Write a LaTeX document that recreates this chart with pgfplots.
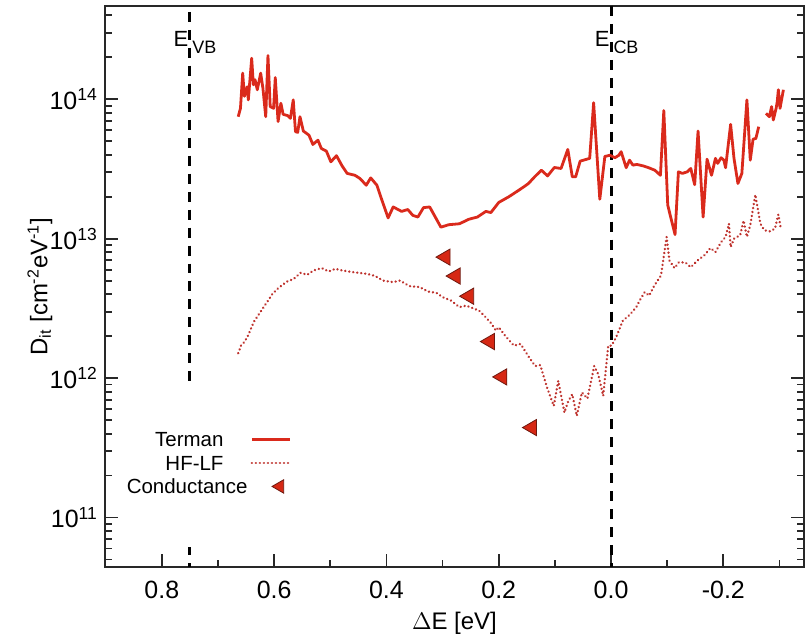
\documentclass[border=0pt]{standalone}
\usepackage{fontspec}
\setmainfont{Liberation Sans}
\usepackage{pgfplots}
\pgfplotsset{compat=1.18}
\definecolor{tred}{RGB}{218,42,28}
\definecolor{hfred}{RGB}{190,50,45}
\definecolor{mred}{RGB}{214,40,20}
\definecolor{medge}{RGB}{110,25,15}
\definecolor{axgray}{RGB}{40,40,40}
\pgfplotsset{
  lineleg/.style={legend image code/.code={\draw[##1] (0pt,1.5pt) -- (19pt,1.5pt);}},
  markleg/.style={legend image code/.code={\draw[##1, mark size=3.9pt] plot coordinates {(14pt,1.5pt)};}},
}
\begin{document}
\begin{tikzpicture}
\begin{axis}[
  scale only axis, width=350pt, height=281pt,
  at={(0,0)}, anchor=south west,
  x dir=reverse, xmin=-0.3437, xmax=0.9015,
  ymode=log, ymin=4.4e10, ymax=4.67e14,
  xtick={-0.2,0,0.2,0.4,0.6,0.8},
  xticklabels={-0.2,0.0,0.2,0.4,0.6,0.8},
  minor xtick={-0.3,-0.1,0.1,0.3,0.5,0.7},
  ytick={1e11,1e12,1e13,1e14},
  yticklabels={10\textsuperscript{11},10\textsuperscript{12},10\textsuperscript{13},10\textsuperscript{14}},
  minor ytick={5e10,6e10,7e10,8e10,9e10,2e11,3e11,4e11,5e11,6e11,7e11,8e11,9e11,2e12,3e12,4e12,5e12,6e12,7e12,8e12,9e12,2e13,3e13,4e13,5e13,6e13,7e13,8e13,9e13,2e14,3e14,4e14},
  xtick pos=bottom, ytick pos=both,
  tick align=inside,
  major tick length=6.5pt, minor tick length=3.5pt,
  axis line style={line width=1pt, axgray},
  every tick/.style={axgray, line width=0.9pt},
  tick label style={font=\fontsize{12.5}{15}\selectfont},
  xticklabel style={yshift=-3.3pt},
  xlabel={$\Delta$E [eV]},
  xlabel style={at={(axis description cs:0.5,0)}, anchor=base, yshift=-31pt, font=\fontsize{12}{14}\selectfont},
  ylabel={D\textsubscript{it} [cm\textsuperscript{-2}eV\textsuperscript{-1}]},
  ylabel style={at={(axis description cs:-0.0929,0.5)}, anchor=center, font=\fontsize{12}{14}\selectfont},
  unbounded coords=jump,
  legend plot pos=right, legend cell align=right,
  legend style={at={(axis description cs:0.0314,0.2432)}, anchor=north west, draw=none, fill=none,
    inner sep=0pt, outer sep=0pt, column sep=13.5pt, row sep=0pt,
    font=\fontsize{10.25}{12}\selectfont,
    nodes={inner sep=0pt, text height=8pt, text depth=3.75pt}},
]
\addplot[forget plot, black, line width=1.5pt, dash pattern=on 5pt off 4pt] coordinates {(0.75,4.24e14) (0.75,8.55e11)};
\addplot[forget plot, black, line width=1.5pt] coordinates {(0.75,6.15e10) (0.75,5.38e10)};
\addplot[forget plot, black, line width=1.5pt] coordinates {(0.75,4.72e10) (0.75,4.4e10)};
\addplot[forget plot, black, line width=1.5pt, dash pattern=on 5pt off 4pt] coordinates {(0,4.67e14) (0,4.4e10)};

\addplot[tred, line width=1.4pt, line join=round, lineleg] table {
0.664 7.5e13
0.660 8.61e13
0.656 1.54e14
0.653 1.05e14
0.648 1.23e14
0.646 9.9e13
0.640 1.97e14
0.637 1.27e14
0.634 1.38e14
0.630 1.17e14
0.624 1.54e14
0.620 1.20e14
0.615 7.5e13
0.611 2.06e14
0.607 8.86e13
0.601 8.61e13
0.598 1.43e14
0.593 6.92e13
0.588 9.36e13
0.584 7.80e13
0.576 7.64e13
0.571 7.30e13
0.566 9.9e13
0.562 5.86e13
0.558 5.79e13
0.554 7.5e13
0.548 5.92e13
0.538 5.53e13
0.531 4.74e13
0.522 5.09e13
0.516 4.44e13
0.507 4.25e13
0.499 3.56e13
0.489 3.94e13
0.479 3.33e13
0.470 2.94e13
0.456 2.85e13
0.447 2.70e13
0.436 2.42e13
0.428 2.73e13
0.417 2.42e13
0.409 1.94e13
0.397 1.41e13
0.388 1.69e13
0.373 1.57e13
0.362 1.62e13
0.353 1.47e13
0.344 1.43e13
0.334 1.67e13
0.323 1.69e13
0.313 1.43e13
0.303 1.21e13
0.289 1.26e13
0.270 1.28e13
0.253 1.38e13
0.238 1.43e13
0.223 1.57e13
0.214 1.54e13
0.200 1.82e13
0.182 2.00e13
0.167 2.19e13
0.155 2.36e13
0.147 2.49e13
0.136 2.78e13
0.124 3.10e13
0.113 2.82e13
0.101 3.24e13
0.089 3.19e13
0.077 4.37e13
0.069 2.78e13
0.063 2.78e13
0.055 3.60e13
0.038 3.77e13
0.031 9.44e13
0.020 1.92e13
0.011 3.89e13
0.002 3.97e13
-0.007 3.81e13
-0.014 3.97e13
-0.018 4.21e13
-0.027 3.23e13
-0.033 3.66e13
-0.039 3.37e13
-0.046 3.41e13
-0.057 3.33e13
-0.067 3.23e13
-0.078 3.10e13
-0.088 2.85e13
-0.094 8.30e13
-0.101 1.74e13
-0.114 1.07e13
-0.120 3.02e13
-0.127 2.94e13
-0.136 3.02e13
-0.142 3.19e13
-0.149 2.44e13
-0.155 5.92e13
-0.164 1.43e13
-0.171 3.72e13
-0.179 2.85e13
-0.186 3.77e13
-0.190 3.47e13
-0.196 3.81e13
-0.201 3.66e13
-0.204 3.23e13
-0.213 6.61e13
-0.219 3.77e13
-0.226 2.49e13
-0.233 2.94e13
-0.242 9.9e13
-0.248 3.66e13
-0.253 5.18e13
-0.258 5.24e13
-0.263 6.36e13
-0.270 nan
-0.276 7.93e13
-0.282 7.5e13
-0.286 8.86e13
-0.289 7.10e13
-0.294 8.61e13
-0.296 9.62e13
-0.298 1.17e14
-0.301 8.61e13
-0.307 1.17e14
};
\addlegendentry{Terman}

\addplot[hfred, line width=1.3pt, line cap=round, dash pattern=on 0.01pt off 2pt, lineleg] table {
0.664 1.51e12
0.659 1.71e12
0.653 1.82e12
0.647 2.00e12
0.641 2.28e12
0.636 2.54e12
0.628 2.84e12
0.621 3.13e12
0.612 3.54e12
0.603 4.02e12
0.594 4.37e12
0.585 4.67e12
0.577 4.93e12
0.565 5.15e12
0.553 5.69e12
0.541 5.51e12
0.530 5.92e12
0.515 6.15e12
0.503 5.82e12
0.491 6.08e12
0.479 5.92e12
0.459 5.75e12
0.435 5.60e12
0.420 5.40e12
0.406 5.01e12
0.388 4.88e12
0.376 5.01e12
0.359 4.57e12
0.341 4.50e12
0.326 4.18e12
0.311 4.09e12
0.300 3.81e12
0.285 3.60e12
0.270 3.23e12
0.258 3.31e12
0.235 3.05e12
0.226 2.81e12
0.214 2.49e12
0.205 2.19e12
0.200 2.32e12
0.188 2.00e12
0.173 1.71e12
0.161 1.76e12
0.147 1.43e12
0.135 1.22e12
0.126 1.24e12
0.114 8.57e11
0.102 6.32e11
0.094 9.57e11
0.083 5.66e11
0.076 6.87e11
0.069 7.67e11
0.061 5.36e11
0.052 7.89e11
0.042 7.14e11
0.030 1.22e12
0.023 1.07e12
0.014 7.46e11
0.005 1.71e12
-0.001 1.71e12
-0.009 1.96e12
-0.021 2.58e12
-0.033 2.84e12
-0.045 3.23e12
-0.051 3.60e12
-0.060 4.14e12
-0.068 3.91e12
-0.077 4.61e12
-0.089 5.45e12
-0.099 1.03e13
-0.104 6.98e12
-0.113 6.15e12
-0.121 6.79e12
-0.133 6.73e12
-0.142 6.25e12
-0.154 6.98e12
-0.166 7.59e12
-0.177 8.57e12
-0.186 8.02e12
-0.196 9.46e12
-0.204 1.03e13
-0.210 1.28e13
-0.213 8.71e12
-0.219 1.00e13
-0.230 1.06e13
-0.236 1.35e13
-0.242 1.03e13
-0.248 1.25e13
-0.257 2.07e13
-0.266 1.28e13
-0.273 1.15e13
-0.283 1.13e13
-0.292 1.18e13
-0.298 1.49e13
-0.302 1.21e13
};
\addlegendentry{HF-LF}

\addplot[only marks, mark=triangle*, mark size=4.7pt,
  mark options={rotate=90, fill=mred, draw=medge, line width=0.4pt}, markleg] table {
0.295 7.38e12
0.277 5.40e12
0.253 3.87e12
0.216 1.83e12
0.194 1.02e12
0.141 4.42e11
};
\addlegendentry{\makebox[48.4pt][l]{Conductance}}

\node[anchor=base west, inner sep=0pt, font=\fontsize{11}{13}\selectfont, xshift=-8.3pt] at (axis cs:0.75,2.4e14) {E\hspace{2pt}\raisebox{-3.5pt}{\fontsize{9}{10}\selectfont VB}};
\node[anchor=base west, inner sep=0pt, font=\fontsize{11}{13}\selectfont, xshift=-8.3pt] at (axis cs:0,2.4e14) {E\hspace{2pt}\raisebox{-3.5pt}{\fontsize{9}{10}\selectfont CB}};
\end{axis}
\pgfresetboundingbox
\path (-52.5pt,-33.5pt) rectangle (350.5pt,284pt);
\end{tikzpicture}
\end{document}
